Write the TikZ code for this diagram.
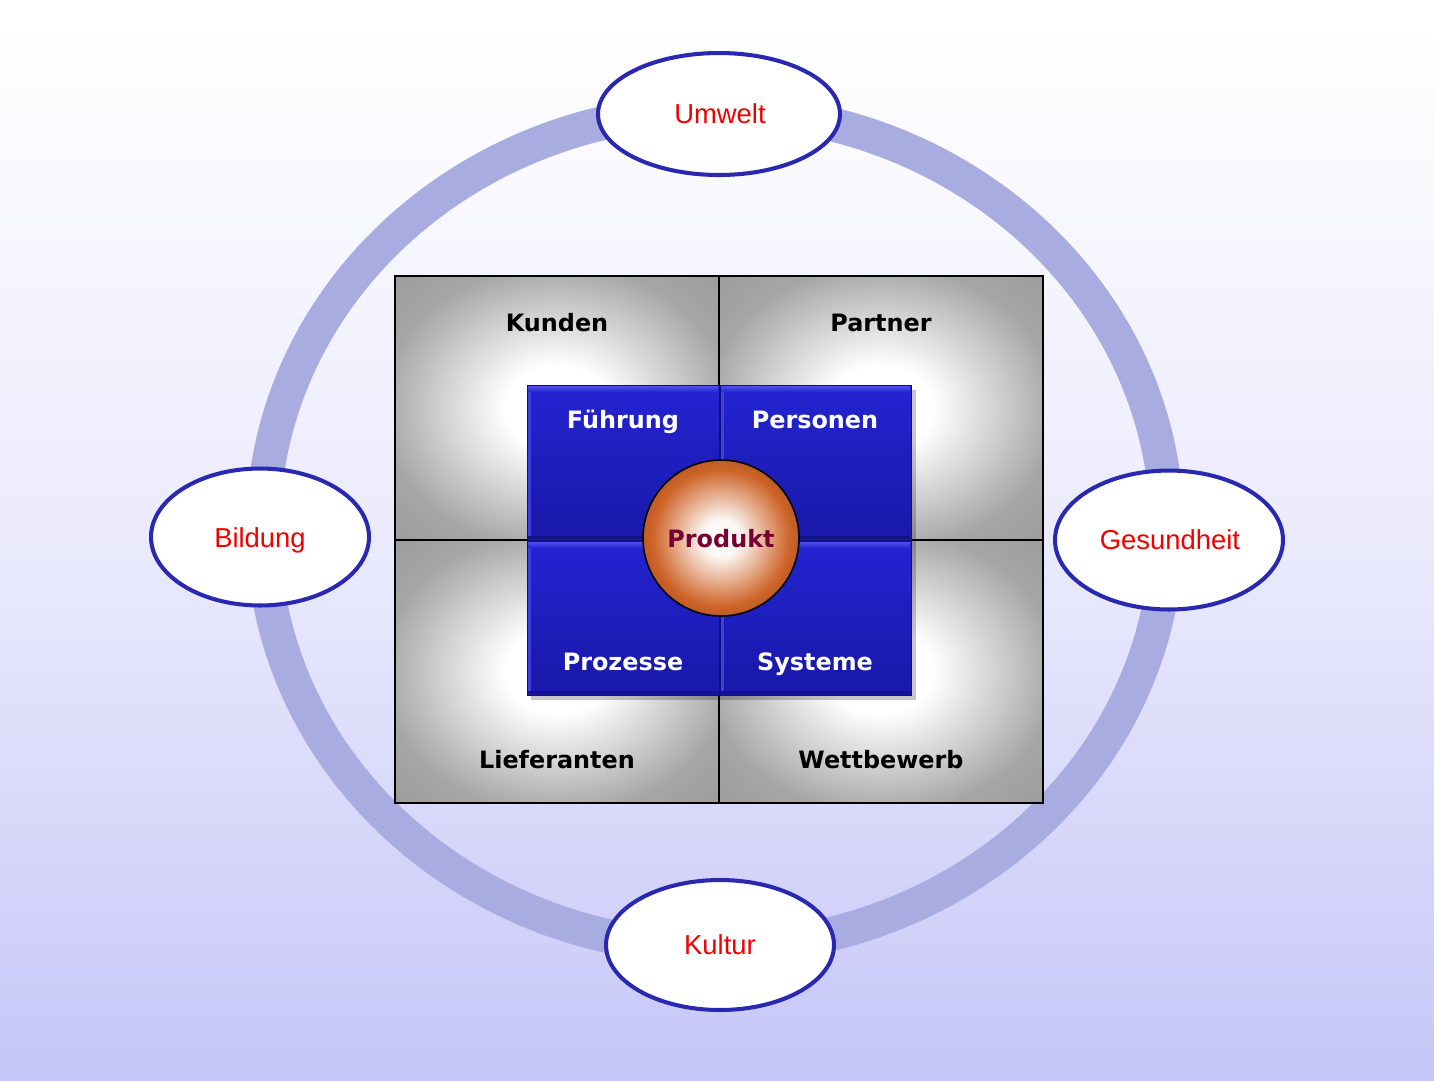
\documentclass[tikz,border=0pt]{standalone}
\usepackage{fontspec}
\setmainfont{Liberation Sans}
\newfontfamily\verd{DejaVu Sans}
\usetikzlibrary{shapes.geometric}
\definecolor{bgmid}{RGB}{234,234,253}
\definecolor{bgbot}{RGB}{198,198,248}
\definecolor{ringc}{RGB}{168,172,224}
\definecolor{ovalline}{RGB}{40,40,176}
\definecolor{ovaltext}{RGB}{240,0,0}
\definecolor{quadgray}{RGB}{166,166,166}
\definecolor{quadgrayout}{RGB}{156,156,156}
\definecolor{tiletop}{RGB}{36,36,210}
\definecolor{tilebot}{RGB}{24,24,168}
\definecolor{tilehi}{RGB}{80,80,240}
\definecolor{tileedge}{RGB}{16,16,120}
\definecolor{ballout}{RGB}{206,100,40}
\definecolor{prodtext}{RGB}{120,0,50}
\pgfdeclareradialshading{quadshade}{\pgfpoint{0bp}{0bp}}{color(0bp)=(white); color(8bp)=(white); color(27bp)=(quadgray); color(36bp)=(quadgrayout); color(50bp)=(quadgrayout)}
\pgfdeclareradialshading{ballshade}{\pgfpoint{0bp}{0bp}}{color(0bp)=(white); color(6bp)=(white!95!ballout); color(22bp)=(ballout); color(25bp)=(ballout!92!black); color(50bp)=(ballout!92!black)}
\tikzset{
  oval/.style={ellipse, draw=ovalline, line width=2.3pt, fill=white, inner sep=0pt,
    text=ovaltext, font=\fontsize{15.6pt}{18pt}\selectfont},
  ovaltxt/.style={anchor=base, inner sep=0pt, text=ovaltext, font=\fontsize{15.6pt}{18pt}\selectfont},
  quadlabel/.style={anchor=base, font=\verd\bfseries\fontsize{13.6pt}{16pt}\selectfont, text=black, inner sep=0pt},
  tilelabel/.style={anchor=base, font=\verd\bfseries\fontsize{13.6pt}{16pt}\selectfont, text=white, inner sep=0pt},
  quad/.style={shading=quadshade},
  bluetile/.style={top color=tiletop, bottom color=tilebot, draw=tileedge, line width=0.5pt},
  tilebevel/.style={top color=tilehi, bottom color=tiletop},
}
\newcommand\bluetilebox[4]{%
  \path[bluetile] (#1,#2) rectangle (#3,#4);
  \path[tilebevel] (#1+1,#2+1) rectangle (#3-1,#2+7);
  \fill[tilehi!60!tiletop] (#1+1,#2+7) rectangle (#1+4,#4-4);
  \fill[tilebot!80!black] (#1+1,#4-4) rectangle (#3-1,#4-1);
}
\begin{document}
\begin{tikzpicture}[x=0.02cm,y=-0.02cm]
\useasboundingbox (0,0) rectangle (1434,1080);
% background
\fill[white] (0,0) rectangle (1434,25);
\path[top color=white, bottom color=bgbot, middle color=bgmid] (0,25) rectangle (1434,1080);
% ring
\draw[ringc, line width=0.68cm] (715,529) ellipse [x radius=9.04cm, y radius=8.38cm];
% quadrants
\path[quad] (395,276) rectangle (719,540);
\path[quad] (719,276) rectangle (1043,540);
\path[quad] (395,540) rectangle (719,803);
\path[quad] (719,540) rectangle (1043,803);
\draw[black, line width=1.1pt] (395,276) rectangle (1043,803);
\draw[black, line width=0.9pt] (719,276) -- (719,803);
\draw[black, line width=0.9pt] (395,540) -- (1043,540);
% shadow of the tiles
\fill[black, opacity=0.22] (531,390) rectangle (916,700);
% blue tiles
\bluetilebox{527}{385}{719}{540}
\bluetilebox{720}{385}{911}{540}
\bluetilebox{527}{541}{719}{695}
\bluetilebox{720}{541}{911}{695}
% centre ball
\node[circle, minimum size=3.12cm, inner sep=0pt, shading=ballshade, draw=black, line width=0.9pt] (produkt) at (721,538) {};
\node[anchor=base, inner sep=0pt, font=\verd\bfseries\fontsize{13.6pt}{16pt}\selectfont, text=prodtext] (produkttxt) at (721,547) {Produkt};
% labels
\node[quadlabel] (kunden) at (557,331) {Kunden};
\node[quadlabel] (partner) at (881,331) {Partner};
\node[quadlabel] (lieferanten) at (557,768) {Lieferanten};
\node[quadlabel] (wettbewerb) at (881,768) {Wettbewerb};
\node[tilelabel] (fuehrung) at (623,428) {Führung};
\node[tilelabel] (personen) at (815,428) {Personen};
\node[tilelabel] (prozesse) at (623,670) {Prozesse};
\node[tilelabel] (systeme) at (815,670) {Systeme};
% ovals
\node[oval, minimum width=4.84cm, minimum height=2.44cm] (umwelt) at (719,114) {};
\node[oval, minimum width=4.36cm, minimum height=2.74cm] (bildung) at (260,537) {};
\node[oval, minimum width=4.56cm, minimum height=2.78cm] (gesundheit) at (1169,540) {};
\node[oval, minimum width=4.56cm, minimum height=2.60cm] (kultur) at (720,945) {};
\node[ovaltxt] (umwelttxt) at (720,123) {Umwelt};
\node[ovaltxt] (bildungtxt) at (260,547) {Bildung};
\node[ovaltxt] (gesundheittxt) at (1170,549) {Gesundheit};
\node[ovaltxt] (kulturtxt) at (720,954) {Kultur};
\end{tikzpicture}
\end{document}
